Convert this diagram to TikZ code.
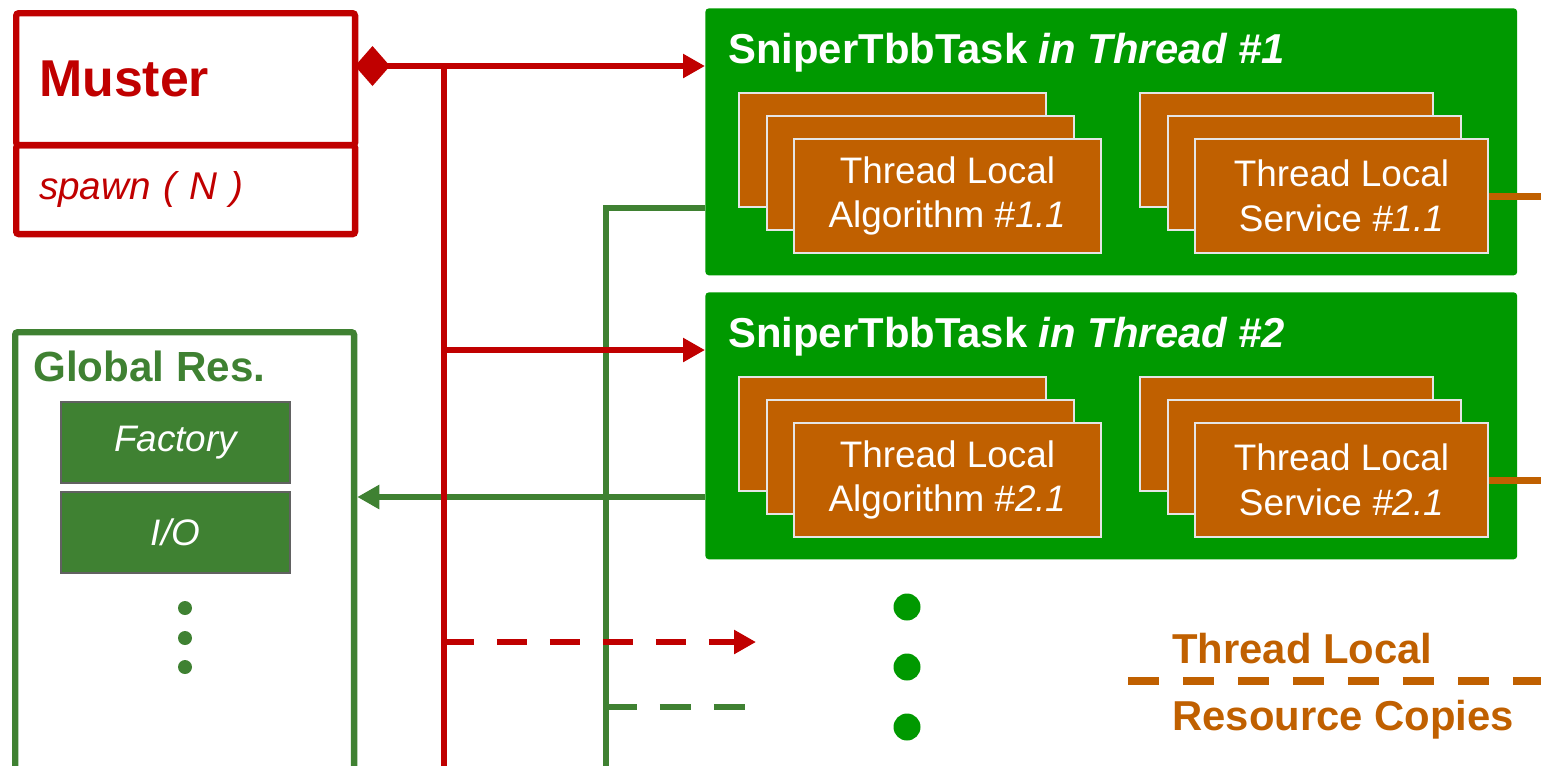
\documentclass[tikz,border=0pt]{standalone}
\usepackage{fontspec}
\setmainfont{Liberation Sans}
\usetikzlibrary{arrows.meta, positioning}

\definecolor{musterRed}{HTML}{C00000}
\definecolor{taskGreen}{HTML}{009900}
\definecolor{resGreen}{HTML}{3F8132}
\definecolor{localOrange}{HTML}{C06000}

\begin{document}
\begin{tikzpicture}[
  x=0.02cm, y=-0.02cm,
  redLine/.style={draw=musterRed, line width=3.8pt},
  greenLine/.style={draw=resGreen, line width=3.8pt},
  orangeLine/.style={draw=localOrange, line width=4pt},
  arr/.style={-{Triangle[length=0.44cm, width=0.46cm]}},
  umlBox/.style={rectangle, rounded corners=1.5pt, line width=3.6pt, anchor=north west,
                 align=left, inner xsep=0.46cm, minimum width=6.78cm, text width=5.86cm},
  taskBox/.style={rectangle, rounded corners=2pt, fill=taskGreen, anchor=north west,
                  minimum width=16.24cm, minimum height=5.34cm},
  localBox/.style={rectangle, fill=localOrange, draw=black!10, line width=1.2pt, anchor=north west,
                   minimum height=2.28cm, align=center, text=white, font=\fontsize{21}{25.5}\selectfont},
  algBox/.style={localBox, minimum width=6.14cm},
  svcBox/.style={localBox, minimum width=5.86cm},
  resBox/.style={rectangle, fill=resGreen, draw=black!62, line width=1.2pt, anchor=north west,
                 minimum width=4.58cm, minimum height=1.62cm, text=white,
                 font=\fontsize{21}{25}\selectfont\itshape},
  taskTitle/.style={anchor=base west, inner sep=0, text=white, font=\fontsize{23.8}{28}\selectfont\bfseries},
  legendText/.style={anchor=base west, inner sep=0, text=localOrange, font=\fontsize{23.8}{28}\selectfont\bfseries}
]
\useasboundingbox (0,0) rectangle (1541,765);

% Muster class box
\node[umlBox, draw=musterRed, minimum height=2.64cm, text=musterRed,
      font=\fontsize{29.5}{34}\selectfont\bfseries] (muster) at (13,10) {Muster};
\node[umlBox, draw=musterRed, minimum height=1.78cm, text=musterRed,
      font=\fontsize{22}{26}\selectfont\itshape] (spawn) at (13,142) {spawn ( N )};

% global resources
\node[umlBox, draw=resGreen, minimum height=9.4cm] (global) at (12,329) {};
\node[anchor=base west, inner sep=0, text=resGreen, font=\fontsize{24}{28}\selectfont\bfseries]
  (globalTitle) at (33,381) {Global Res.};
\node[resBox] (factory) at (60,401) {Factory};
\node[resBox, below=0.14cm of factory] (io) {I/O};
\foreach \y in {608,638,667} \fill[resGreen] (185,\y) circle (0.14cm);

% one task per thread
\foreach \t/\dy in {1/0,2/284} {
  \node[taskBox] (thread\t) at (705,8+\dy) {};
  \node[taskTitle] (title\t) at (728,63+\dy) {SniperTbbTask \textit{in Thread \#\t}};
  \node[algBox] (algA\t) at (738,92+\dy) {};
  \node[algBox] (algB\t) at (766,115+\dy) {};
  \node[algBox] (algC\t) at (793,138+\dy) {Thread Local\\Algorithm \textit{\#\t.1}};
  \node[svcBox] (svcA\t) at (1139,92+\dy) {};
  \node[svcBox] (svcB\t) at (1167,115+\dy) {};
  \node[svcBox] (svcC\t) at (1194,138+\dy) {Thread Local\\Service \textit{\#\t.1}};
}
\foreach \y in {607,667,727} \fill[taskGreen] (907,\y) circle (0.27cm);

% resource usage
\coordinate (useTop) at (606,208);
\coordinate (useBot) at (606,770);
\coordinate (resCall) at (606,497);
\coordinate (useN) at (606,707);
\coordinate (moreUse) at (745,707);
\draw[greenLine] (thread1.west |- useTop) -- (useTop) -- (useBot);
\draw[greenLine, arr] (thread2.west |- resCall) -- (global.east |- resCall);
\draw[greenLine, dash pattern=on 0.62cm off 0.46cm] (useN) -- (moreUse);

% spawning
\coordinate (musterPort) at (355,66);
\coordinate (trunkTop) at (444,66);
\coordinate (trunkBot) at (444,770);
\coordinate (spawn2) at (444,350);
\coordinate (spawnN) at (444,642);
\coordinate (moreTasks) at (756,642);
\draw[redLine, {Diamond[length=0.7cm, width=0.8cm]}-{Triangle[length=0.44cm, width=0.46cm]}]
  (musterPort) -- (musterPort -| thread1.west);
\draw[redLine] (trunkTop) -- (trunkBot);
\draw[redLine, arr] (spawn2) -- (spawn2 -| thread2.west);
\draw[redLine, arr, dash pattern=on 0.6cm off 0.46cm] (spawnN) -- (moreTasks);

% thread local copies
\coordinate (legendL) at (1128,681);
\coordinate (rightEdge) at (1545,681);
\foreach \t in {1,2} \draw[orangeLine] (svcC\t.east) -- (svcC\t.east -| rightEdge);
\draw[orangeLine, line width=4.4pt, dash pattern=on 0.62cm off 0.48cm] (legendL) -- (rightEdge);
\node[legendText] (legendTop) at (1172,663) {Thread Local};
\node[legendText] (legendBot) at (1172,730) {Resource Copies};
\end{tikzpicture}
\end{document}
